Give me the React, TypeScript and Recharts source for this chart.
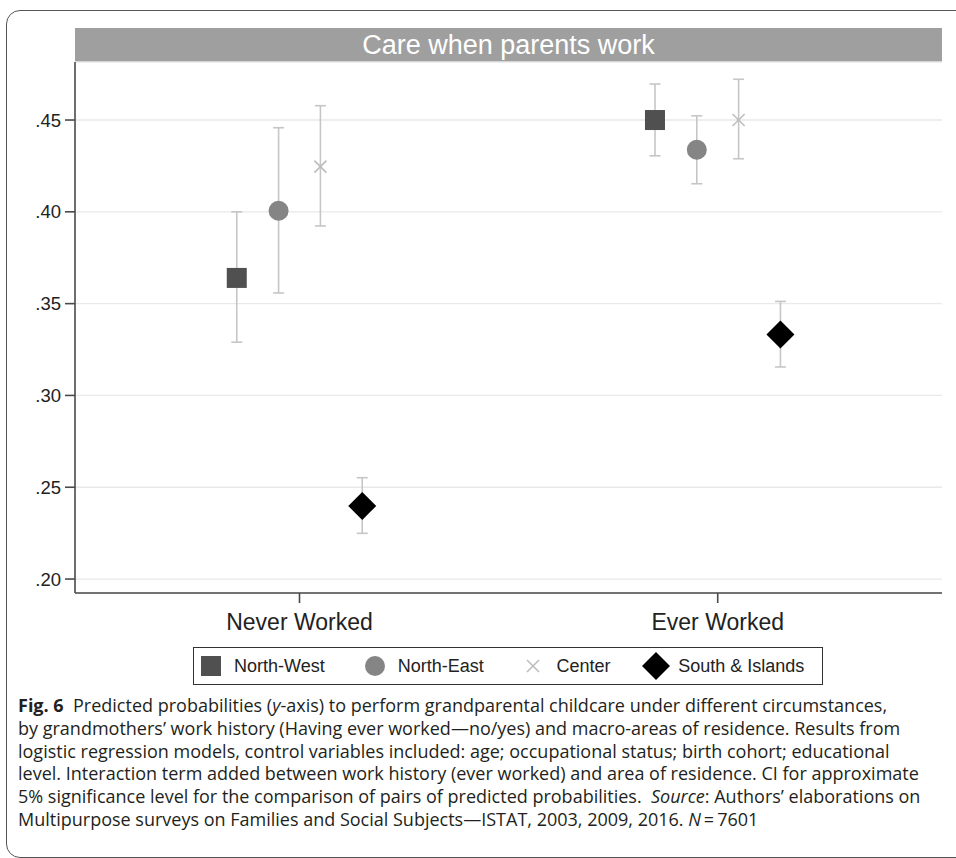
import React from 'react';
import { ScatterChart, Scatter, XAxis, YAxis, CartesianGrid, ErrorBar, Legend } from 'recharts';

// groups on the x axis
const categories = ['Never Worked', 'Ever Worked'];
const regions = ['North-West', 'North-East', 'Center', 'South & Islands'];

// predicted probabilities and CI bounds, [never worked, ever worked]
const northWest = [0.364, 0.450];
const northWestLow = [0.329, 0.4305];
const northWestHigh = [0.400, 0.4696];

const northEast = [0.4006, 0.4338];
const northEastLow = [0.3558, 0.4153];
const northEastHigh = [0.4458, 0.4523];

const center = [0.4246, 0.450];
const centerLow = [0.3923, 0.4289];
const centerHigh = [0.4578, 0.4722];

const south = [0.2398, 0.3332];
const southLow = [0.2249, 0.3155];
const southHigh = [0.2552, 0.3512];

const yTicks = [0.2, 0.25, 0.3, 0.35, 0.4, 0.45];

const offsets = [-0.15, -0.05, 0.05, 0.15];

function makeSeries(est: number[], lo: number[], hi: number[], k: number) {
  return est.map((y, i) => ({ x: i + 1 + offsets[k], y, err: [y - lo[i], hi[i] - y] }));
}

const series = [
  makeSeries(northWest, northWestLow, northWestHigh, 0),
  makeSeries(northEast, northEastLow, northEastHigh, 1),
  makeSeries(center, centerLow, centerHigh, 2),
  makeSeries(south, southLow, southHigh, 3),
];

const colors = ['#505050', '#858585', '#bdbdbd', '#000000'];
const ciColor = '#c6c6c6';

const SquareDot = ({ cx, cy }: any) => (
  <rect x={cx - 10} y={cy - 10} width={20} height={20} fill={colors[0]} />
);
const CircleDot = ({ cx, cy }: any) => <circle cx={cx} cy={cy} r={10} fill={colors[1]} />;
const CrossDot = ({ cx, cy }: any) => (
  <g stroke={colors[2]} strokeWidth={1.6}>
    <line x1={cx - 6} y1={cy - 6} x2={cx + 6} y2={cy + 6} />
    <line x1={cx - 6} y1={cy + 6} x2={cx + 6} y2={cy - 6} />
  </g>
);
const DiamondDot = ({ cx, cy }: any) => (
  <polygon points={`${cx},${cy - 14} ${cx + 14},${cy} ${cx},${cy + 14} ${cx - 14},${cy}`} fill={colors[3]} />
);
const shapes = [SquareDot, CircleDot, CrossDot, DiamondDot];

function LegendIcon({ i }: { i: number }) {
  if (i === 0) return <svg width={20} height={20}><rect width={20} height={20} fill={colors[0]} /></svg>;
  if (i === 1) return <svg width={20} height={20}><circle cx={10} cy={10} r={10} fill={colors[1]} /></svg>;
  if (i === 2)
    return (
      <svg width={14} height={14}>
        <g stroke={colors[2]} strokeWidth={1.6}>
          <line x1={1} y1={1} x2={13} y2={13} />
          <line x1={1} y1={13} x2={13} y2={1} />
        </g>
      </svg>
    );
  return <svg width={28} height={28}><polygon points="14,0 28,14 14,28 0,14" fill={colors[3]} /></svg>;
}

const itemWidths = [164, 162, 116, 180];
const textGaps = [13, 13, 16, 8];

function renderLegend(props: any) {
  const names = (props.payload || []).map((p: any) => p.value);
  const ordered = regions.filter((r) => names.includes(r));
  return (
    <div
      style={{
        boxSizing: 'border-box',
        width: 630,
        height: 38,
        border: '1.5px solid #333',
        display: 'flex',
        alignItems: 'center',
        paddingLeft: 7,
        fontFamily: '"Liberation Sans", Arial, sans-serif',
        fontSize: 18,
        color: '#222',
        background: '#fff',
      }}
    >
      {ordered.map((name) => {
        const i = regions.indexOf(name);
        return (
          <div key={name} style={{ width: itemWidths[i], display: 'flex', alignItems: 'center', whiteSpace: 'nowrap' }}>
            <LegendIcon i={i} />
            <span style={{ marginLeft: textGaps[i] }}>{name}</span>
          </div>
        );
      })}
    </div>
  );
}

const captionStyle: React.CSSProperties = {
  position: 'absolute',
  left: 18,
  top: 694,
  fontFamily: '"Open Sans", sans-serif',
  fontSize: 18,
  lineHeight: '22.8px',
  color: '#231f20',
  whiteSpace: 'nowrap',
};

export default function App() {
  return (
    <div style={{ position: 'relative', width: 956, height: 858, overflow: 'hidden', background: '#fff' }}>
      <style>{'body{margin:0}'}</style>
      <div
        style={{
          position: 'absolute',
          left: 6,
          top: 10,
          width: 990,
          height: 846,
          border: '1px solid #555',
          borderRadius: 14,
        }}
      />
      <div
        style={{
          position: 'absolute',
          left: 75,
          top: 28,
          width: 867,
          height: 34,
          background: '#9f9f9f',
          color: '#fff',
          fontFamily: '"Liberation Sans", Arial, sans-serif',
          fontSize: 27,
          lineHeight: '34px',
          textAlign: 'center',
        }}
      >
        Care when parents work
      </div>
      <div style={{ position: 'absolute', left: 0, top: 0 }}>
        <ScatterChart width={956} height={685} margin={{ top: 62, right: 14, bottom: 0, left: 15 }}>
          <CartesianGrid vertical={false} stroke="#e9e9e9" strokeWidth={1.3} />
          <XAxis
            type="number"
            dataKey="x"
            domain={[0.4632, 2.5363]}
            ticks={[1, 2]}
            tickFormatter={(v: number) => categories[v - 1]}
            allowDataOverflow
            height={54}
            tickSize={10}
            tickMargin={11}
            stroke="#4a4a4a"
            strokeWidth={1.6}
            tick={{ fill: '#222', fontSize: 23, fontFamily: '"Liberation Sans", Arial, sans-serif' }}
          />
          <YAxis
            type="number"
            dataKey="y"
            domain={[0.1924, 0.4816]}
            ticks={yTicks}
            tickFormatter={(v: number) => '.' + Math.round(v * 100).toString().padStart(2, '0')}
            allowDataOverflow
            width={60}
            tickSize={10}
            tickMargin={4}
            stroke="#4a4a4a"
            strokeWidth={1.6}
            tick={{ fill: '#222', fontSize: 18.5, fontFamily: '"Liberation Sans", Arial, sans-serif' }}
          />
          {series.map((data, k) => (
            <Scatter
              key={regions[k]}
              name={regions[k]}
              data={data}
              fill={colors[k]}
              shape={shapes[k]}
              isAnimationActive={false}
            >
              <ErrorBar dataKey="err" direction="y" width={5.5} stroke={ciColor} strokeWidth={1.6} />
            </Scatter>
          ))}
          <Legend verticalAlign="bottom" content={renderLegend} wrapperStyle={{ left: 193, width: 630 }} />
        </ScatterChart>
      </div>
      <div style={captionStyle}>
        <div>
          <b>Fig. 6</b>&nbsp; Predicted probabilities (<i>y</i>-axis) to perform grandparental childcare under different circumstances,
        </div>
        <div>by grandmothers’ work history (Having ever worked—no/yes) and macro-areas of residence. Results from</div>
        <div>logistic regression models, control variables included: age; occupational status; birth cohort; educational</div>
        <div>level. Interaction term added between work history (ever worked) and area of residence. CI for approximate</div>
        <div>
          5% significance level for the comparison of pairs of predicted probabilities.&nbsp; <i>Source</i>: Authors’ elaborations on
        </div>
        <div>
          Multipurpose surveys on Families and Social Subjects—ISTAT, 2003, 2009, 2016. <i>N</i>&#8201;=&#8201;7601
        </div>
      </div>
    </div>
  );
}
